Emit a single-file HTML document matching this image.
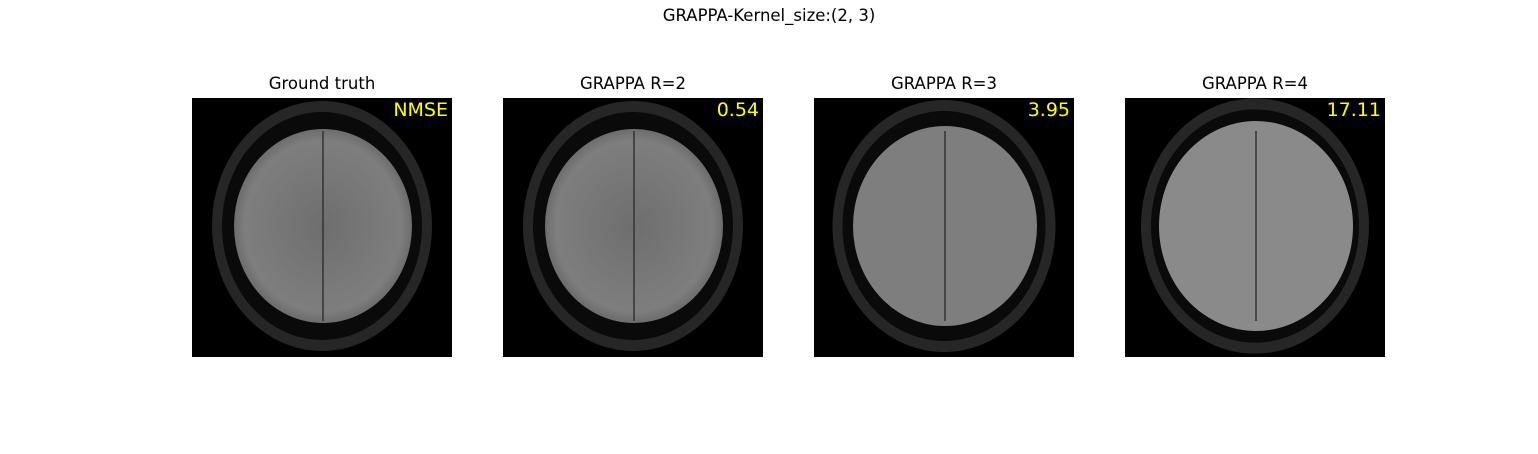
<!DOCTYPE html>
<html><head><meta charset="utf-8"><style>
body{margin:0;background:#fff;width:1538px;height:450px;overflow:hidden;font-family:"DejaVu Sans","Liberation Sans",sans-serif}
</style></head><body>
<svg id="fig" width="1538" height="450" xmlns="http://www.w3.org/2000/svg" font-family="DejaVu Sans, Liberation Sans, sans-serif">
<defs>
<radialGradient id="bg" cx="50%" cy="50%" r="55%"><stop offset="0" stop-color="#6e6e6e"/><stop offset="0.8" stop-color="#7e7e7e"/><stop offset="1" stop-color="#5e5e5e"/></radialGradient>
</defs>
<text x="769" y="21" font-size="16.5" text-anchor="middle" fill="#000">GRAPPA-Kernel_size:(2, 3)</text>
</svg>
<script>
const titles = ["Ground truth","GRAPPA R=2","GRAPPA R=3","GRAPPA R=4"];
const nmseLabels = ["NMSE","0.54","3.95","17.11"];
const panelX = [192,503,814,1125];
const svg = document.getElementById('fig');
const NS = "http://www.w3.org/2000/svg";
function mk(tag, attrs, parent){const e=document.createElementNS(NS,tag);for(const k in attrs)e.setAttribute(k,attrs[k]);(parent||svg).appendChild(e);return e;}
titles.forEach((t,i)=>{
  const x0=panelX[i], y0=98, w=260, h=259;
  const g=mk('g',{});
  
  
  const tt=mk('text',{x:x0+w/2,y:89,'font-size':16.5,'text-anchor':'middle',fill:'#000'},g);
  tt.textContent=t;
  
  
  const r=mk('rect',{x:x0,y:y0,width:w,height:h,fill:'#000'},g);
  
  
  const cx=x0+130, cy=y0+128;
  const big = i===3 ? 8 : (i===2 ? 3 : 0);
  const s=mk('ellipse',{cx:cx,cy:cy,rx:110+big/2,ry:125+big/3,fill:'#262626'},g);
  
  
  mk('ellipse',{cx:cx,cy:cy,rx:100+big/2,ry:114+big/3,fill:'#0a0a0a'},g);
  const bright = ['url(#bg)','url(#bg)','#7e7e7e','#8a8a8a'][i];
  const b=mk('ellipse',{cx:cx+1,cy:cy,rx:89+big,ry:97+big,fill:bright},g);
  
  
  mk('line',{x1:cx+1,y1:cy-95,x2:cx+1,y2:cy+95,stroke:'#333','stroke-width':1.5},g);
  const n=mk('text',{x:x0+w-4,y:y0+18,'font-size':19,'text-anchor':'end',fill:'#ffff00'},g);
  n.textContent=nmseLabels[i];
  
  
});
</script>
</body></html>
